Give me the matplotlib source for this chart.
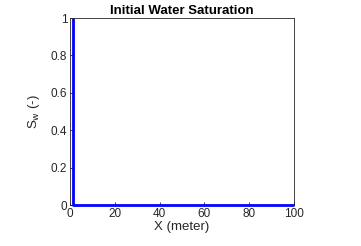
import matplotlib
matplotlib.use("Agg")
import matplotlib.pyplot as plt

x = [1.5, 1.5, 100]
sw = [1, 0, 0]
xticks = [0, 20, 40, 60, 80, 100]
yticks = [0, 0.2, 0.4, 0.6, 0.8, 1]

plt.rcParams['font.family'] = ['Liberation Sans', 'DejaVu Sans']
fig = plt.figure(figsize=(3.61, 2.46), dpi=100)
ax = fig.add_axes([70/361, 41/246, 224/361, 187/246])
ax.plot(x, sw, color='#0000ff', linewidth=2, clip_on=False, solid_capstyle='butt')
ax.set_xlim(0, 100)
ax.set_ylim(0, 1)
ax.set_xticks(xticks)
ax.set_yticks(yticks)
ax.set_yticklabels(['0', '0.2', '0.4', '0.6', '0.8', '1'])
for s in ax.spines.values():
    s.set_color('#262626')
    s.set_linewidth(0.6)
ax.tick_params(direction='in', length=2.5, width=0.6, labelsize=8.5, colors='#262626', pad=2)
ax.set_xlabel('X (meter)', fontsize=9.5, color='#262626', labelpad=1)
ax.set_ylabel(r'S$_{\rm w}$ (-)', fontsize=9.5, color='#262626', labelpad=6)
ax.set_title('Initial Water Saturation', fontsize=9.5, fontweight='bold', pad=3)
fig.savefig('out.png', dpi=100)
